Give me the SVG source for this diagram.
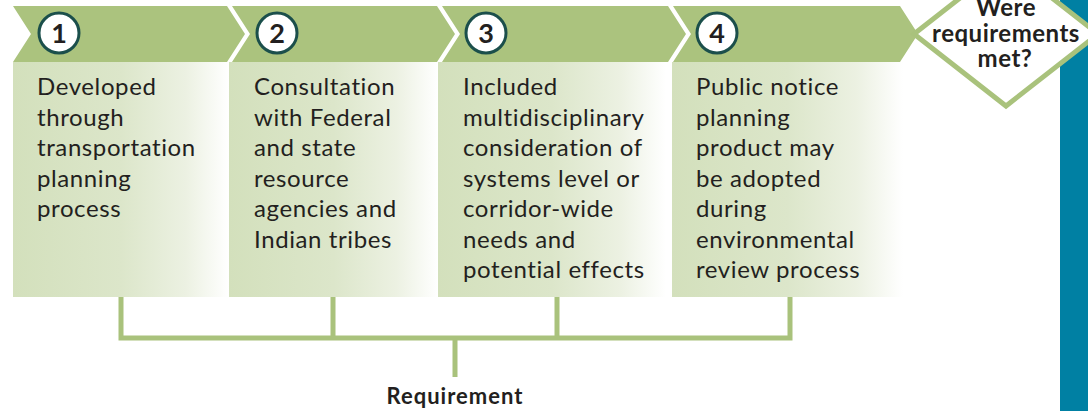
<svg xmlns="http://www.w3.org/2000/svg" width="1088" height="411" viewBox="0 0 1088 411">
<defs>
<linearGradient id="bodyGrad" x1="0" y1="0" x2="1" y2="0">
<stop offset="0" stop-color="#d3e0bc"/>
<stop offset="0.5" stop-color="#dce6ca"/>
<stop offset="0.8" stop-color="#ecf1e2"/>
<stop offset="1" stop-color="#ffffff"/>
</linearGradient>
<style>
.chev{fill:#abc37e;}
.body{fill:url(#bodyGrad);}
.num{fill:#ffffff;stroke:#1b4f4b;stroke-width:3;}
.numt{font-family:Lato,"Liberation Sans",sans-serif;font-weight:bold;font-size:27px;fill:#231f20;text-anchor:middle;}
.txt{font-family:Lato,"Liberation Sans",sans-serif;font-size:24px;letter-spacing:0.6px;fill:#231f20;}
.dtxt{font-family:Lato,"Liberation Sans",sans-serif;font-weight:bold;font-size:24px;letter-spacing:0.5px;fill:#231f20;text-anchor:middle;}
.rtxt{font-family:Lato,"Liberation Sans",sans-serif;font-weight:bold;font-size:22px;letter-spacing:1px;fill:#231f20;text-anchor:middle;}
.conn{fill:none;stroke:#a9c27c;stroke-width:5;}
</style>
</defs>
<rect x="0" y="0" width="1088" height="411" fill="#ffffff"/>
<rect id="sidebar" x="1060" y="0" width="28" height="411" fill="#0080a3"/>

<g id="step1">
<rect class="body" x="13" y="62" width="216" height="235"/>
<polygon class="chev" points="13,6 227,6 245,34 227,62 13,62 31,34"/>
<circle class="num" cx="59" cy="33" r="20"/>
<text class="numt" x="59" y="43">1</text>
<text class="txt" x="37" y="95">Developed</text>
<text class="txt" x="37" y="125.5">through</text>
<text class="txt" x="37" y="156">transportation</text>
<text class="txt" x="37" y="186.5">planning</text>
<text class="txt" x="37" y="217">process</text>
</g>

<g id="step2">
<rect class="body" x="229" y="62" width="209" height="235"/>
<polygon class="chev" points="232,6 437,6 455,34 437,62 232,62 250,34"/>
<circle class="num" cx="277" cy="33" r="20"/>
<text class="numt" x="277" y="43">2</text>
<text class="txt" x="254" y="95">Consultation</text>
<text class="txt" x="254" y="125.5">with Federal</text>
<text class="txt" x="254" y="156">and state</text>
<text class="txt" x="254" y="186.5">resource</text>
<text class="txt" x="254" y="217">agencies and</text>
<text class="txt" x="254" y="247.5">Indian tribes</text>
</g>

<g id="step3">
<rect class="body" x="438" y="62" width="228" height="235"/>
<polygon class="chev" points="442,6 668,6 686,34 668,62 442,62 460,34"/>
<circle class="num" cx="486" cy="33" r="20"/>
<text class="numt" x="486" y="43">3</text>
<text class="txt" x="463" y="95">Included</text>
<text class="txt" x="463" y="125.5">multidisciplinary</text>
<text class="txt" x="463" y="156">consideration of</text>
<text class="txt" x="463" y="186.5">systems level or</text>
<text class="txt" x="463" y="217">corridor-wide</text>
<text class="txt" x="463" y="247.5">needs and</text>
<text class="txt" x="463" y="278">potential effects</text>
</g>

<g id="step4">
<rect class="body" x="672" y="62" width="231" height="235"/>
<polygon class="chev" points="673,6 900,6 918,34 900,62 673,62 691,34"/>
<circle class="num" cx="717" cy="33" r="20"/>
<text class="numt" x="717" y="43">4</text>
<text class="txt" x="696" y="95">Public notice</text>
<text class="txt" x="696" y="125.5">planning</text>
<text class="txt" x="696" y="156">product may</text>
<text class="txt" x="696" y="186.5">be adopted</text>
<text class="txt" x="696" y="217">during</text>
<text class="txt" x="696" y="247.5">environmental</text>
<text class="txt" x="696" y="278">review process</text>
</g>

<g id="decision">
<polygon points="914,34 1006,-38 1098,34 1006,106" fill="#ffffff" stroke="#a9c27c" stroke-width="5"/>
<text class="dtxt" x="1006" y="16">Were</text>
<text class="dtxt" x="1006" y="42">requirements</text>
<text class="dtxt" x="1005" y="67">met?</text>
</g>

<g id="connectors">
<path class="conn" d="M121,297 V338 H790 V297 M333,297 V338 M557,297 V338 M455,338 V377"/>
</g>

<g id="requirement">
<text class="rtxt" x="455" y="404">Requirement</text>
</g>
</svg>
